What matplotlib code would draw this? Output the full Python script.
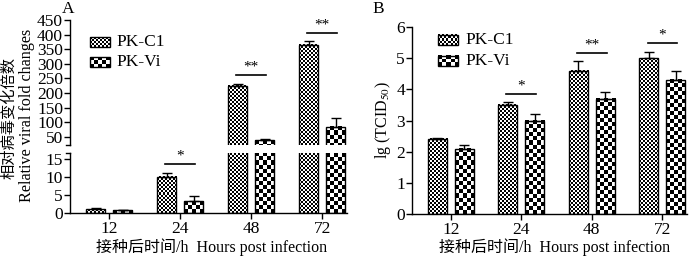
import numpy as np
import matplotlib
matplotlib.use("Agg")
import matplotlib.pyplot as plt
from matplotlib.patches import Rectangle
from matplotlib.lines import Line2D

plt.rcParams['font.family'] = ['Liberation Serif', 'Noto Sans CJK SC']
plt.rcParams['mathtext.fontset'] = 'stix'

# ---------------- data ----------------
categories = ["12", "24", "48", "72"]
series_names = ["PK-C1", "PK-Vi"]

# Panel A: relative viral fold changes
a_c1 = [1.0, 10.0, 225.0, 365.0]
a_c1_err = [0.3, 1.0, 5.0, 12.0]
a_vi = [0.7, 3.3, 38.0, 85.0]
a_vi_err = [0.2, 1.5, 5.0, 30.0]
a_sig_idx = [1, 2, 3]
a_sig_txt = ["*", "**", "**"]
a_sig_y = [13.6, 262.0, 405.0]

# Panel B: lg(TCID50)
b_c1 = [2.42, 3.5, 4.6, 5.0]
b_c1_err = [0.03, 0.1, 0.3, 0.2]
b_vi = [2.1, 3.0, 3.7, 4.3]
b_vi_err = [0.1, 0.2, 0.2, 0.3]
b_sig_idx = [1, 2, 3]
b_sig_txt = ["*", "**", "*"]
b_sig_y = [3.85, 5.16, 5.48]

a_upper_ticks = [50, 100, 150, 200, 250, 300, 350, 400, 450]
a_lower_ticks = [0, 5, 10, 15]
b_ticks = [0, 1, 2, 3, 4, 5, 6]

# ---------------- style ----------------
W, H = 700, 258
DPI = 100
FS = 12.5
FL = 12.5
FX = 11.5
BW = 0.27
OFF = 0.19
XLIM = (-0.55, 3.35)
SQ = {0: 2.0, 1: 4.0}   # checker square size (px) for each series

fig = plt.figure(figsize=(W / DPI, H / DPI), dpi=DPI)


def fpos(x0, y0, x1, y1):
    return [x0 / W, 1 - y1 / H, (x1 - x0) / W, (y1 - y0) / H]


def checker(nr, nc):
    r = np.arange(nr)[:, None]
    c = np.arange(nc)[None, :]
    return ((r + c) % 2).astype(float)


def checker_bar(ax, x0, x1, y0, y1, sq, z=2):
    p0 = ax.transData.transform((x0, y0))
    p1 = ax.transData.transform((x1, y1))
    wpx = abs(p1[0] - p0[0])
    hpx = abs(p1[1] - p0[1])
    nc = max(1, int(round(wpx / sq)))
    nr = max(1, int(round(hpx / sq)))
    ax.imshow(checker(nr, nc), cmap='gray', vmin=0, vmax=1,
              extent=[x0, x1, y0, y1], origin='lower', aspect='auto',
              interpolation='nearest', zorder=z)


def plot_series(ax, x, vals, errs, k):
    xs = x + (-OFF if k == 0 else OFF)
    bars = ax.bar(xs, vals, BW, facecolor='none', edgecolor='black',
                  linewidth=1.0, zorder=3)
    for b in bars:
        checker_bar(ax, b.get_x(), b.get_x() + b.get_width(), 0,
                    b.get_height(), SQ[k])
    ax.errorbar(xs, vals, yerr=[np.zeros(len(vals)), errs], fmt='none',
                ecolor='black', elinewidth=1.0, capsize=3.3, capthick=1.0,
                zorder=4)


def style_axis(ax, bottom=True):
    for s in ['top', 'right']:
        ax.spines[s].set_visible(False)
    ax.spines['left'].set_linewidth(1.0)
    ax.spines['bottom'].set_linewidth(1.0)
    ax.tick_params(axis='y', direction='out', length=4, width=1.0,
                   labelsize=FS, pad=1)
    ax.tick_params(axis='x', direction='out', length=4, width=1.0,
                   labelsize=FS, pad=2)
    if not bottom:
        ax.spines['bottom'].set_visible(False)
        ax.tick_params(axis='x', bottom=False, labelbottom=False)


def sig(ax, i, txt, y, dy):
    ax.plot([i - 0.21, i + 0.21], [y, y], color='black', lw=1.2, zorder=5)
    ax.text(i, y + dy, txt, ha='center', va='bottom', fontsize=11, zorder=5)


def legend(ax, xl, yl, w, h, gap):
    for k, name in enumerate(series_names):
        yc = yl - k * gap
        y0, y1 = yc - h / 2, yc + h / 2
        nr = 5 if k == 0 else 3
        nc = 10 if k == 0 else 5
        ax.imshow(checker(nr, nc), cmap='gray', vmin=0, vmax=1,
                  extent=[xl, xl + w, y0, y1], origin='lower', aspect='auto',
                  interpolation='nearest', transform=ax.transAxes, zorder=6,
                  clip_on=False)
        ax.add_patch(Rectangle((xl, y0), w, h, transform=ax.transAxes,
                               facecolor='none', edgecolor='black', lw=1.0,
                               zorder=7, clip_on=False))
        ax.text(xl + w + 0.025, yc, name, transform=ax.transAxes,
                ha='left', va='center', fontsize=FL)


# ---------------- Panel A ----------------
axAu = fig.add_axes(fpos(70, 20, 347, 145))
axAl = fig.add_axes(fpos(70, 153, 347, 213))
ylim_u = (22, 450)
ylim_l = (0, 16.6)

x = np.arange(len(categories))
for ax in (axAu, axAl):
    ax.set_xlim(*XLIM)
    ax.set_ylim(*(ylim_u if ax is axAu else ylim_l))
    plot_series(ax, x, a_c1, a_c1_err, 0)
    plot_series(ax, x, a_vi, a_vi_err, 1)
    ax.set_xlim(*XLIM)
    ax.set_ylim(*(ylim_u if ax is axAu else ylim_l))

style_axis(axAu, bottom=False)
style_axis(axAl, bottom=True)
axAu.set_yticks(a_upper_ticks)
axAl.set_yticks(a_lower_ticks)
axAl.set_xticks(x)
axAl.set_xticklabels(categories)
# break marks
axAu.add_line(Line2D([-0.015, 0], [0, 0], transform=axAu.transAxes,
                     color='black', lw=1.0, clip_on=False))
axAl.add_line(Line2D([-0.015, 0], [1, 1], transform=axAl.transAxes,
                     color='black', lw=1.0, clip_on=False))

for i, t, y in zip(a_sig_idx, a_sig_txt, a_sig_y):
    if y < ylim_l[1]:
        sig(axAl, i, t, y, 0.4)
    else:
        sig(axAu, i, t, y, 6)

legend(axAu, 0.072, 0.824, 0.072, 0.08, 0.16)

fig.text(212 / W, 1 - 247 / H, "接种后时间/h  Hours post infection",
         ha='center', va='center', fontsize=FX)
fig.text(9 / W, 1 - 118 / H, "相对病毒变化倍数", rotation=90, ha='center',
         va='center', fontsize=11)
fig.text(27 / W, 1 - 115 / H, "Relative viral fold changes", rotation=90,
         ha='center', va='center', fontsize=11.6)
fig.text(68 / W, 1 - 9 / H, "A", ha='center', va='center', fontsize=FL)

# ---------------- Panel B ----------------
axB = fig.add_axes(fpos(412, 27, 687, 214))
axB.set_xlim(*XLIM)
axB.set_ylim(0, 6)
plot_series(axB, x, b_c1, b_c1_err, 0)
plot_series(axB, x, b_vi, b_vi_err, 1)
axB.set_xlim(*XLIM)
axB.set_ylim(0, 6)
style_axis(axB, bottom=True)
axB.set_yticks(b_ticks)
axB.set_xticks(x)
axB.set_xticklabels(categories)
for i, t, y in zip(b_sig_idx, b_sig_txt, b_sig_y):
    sig(axB, i, t, y, 0.06)
legend(axB, 0.095, 0.93, 0.073, 0.055, 0.112)
fig.text(555 / W, 1 - 247 / H, "接种后时间/h  Hours post infection",
         ha='center', va='center', fontsize=FX)
fig.text(383 / W, 1 - 120 / H, r"lg (TCID$_{50}$)", rotation=90,
         ha='center', va='center', fontsize=FX)
fig.text(378 / W, 1 - 9 / H, "B", ha='center', va='center', fontsize=FL)

fig.savefig("out.png", dpi=DPI)
